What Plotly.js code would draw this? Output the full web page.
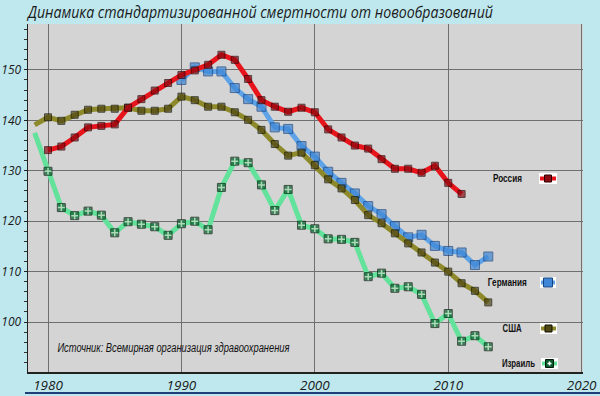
<!DOCTYPE html>
<html>
<head>
<meta charset="utf-8">
<script src="https://cdn.plot.ly/plotly-3.0.1.min.js"></script>
<style>html,body{margin:0;padding:0;background:#bfe8ee;}#chart{width:600px;height:396px;}</style>
</head>
<body>
<div id="chart"></div>
<script>
var years = [1979,1980,1981,1982,1983,1984,1985,1986,1987,1988,1989,1990,1991,1992,1993,1994,1995,1996,1997,1998,1999,2000,2001,2002,2003,2004,2005,2006,2007,2008,2009,2010,2011,2012,2013];
var russia = [null,134.1,134.8,136.6,138.6,138.9,139.2,142.5,144.2,145.9,147.4,149.0,149.9,151.0,153.0,152.0,148.2,144.0,142.7,141.7,142.5,141.6,138.2,136.6,135.0,134.4,132.3,130.4,130.4,129.6,131.0,127.6,125.4,null,null];
var germany = [null,null,null,null,null,null,null,null,null,null,null,148.0,150.5,149.7,149.7,146.4,144.2,142.7,138.6,138.3,134.9,132.8,129.8,127.6,125.5,123.0,121.4,119.0,116.8,117.3,115.1,114.1,113.8,111.3,113.0];
var usa = [139.1,140.6,139.9,141.1,142.1,142.3,142.3,142.5,141.9,141.9,142.3,144.7,144.0,142.7,142.7,141.6,140.1,138.1,135.3,133.0,133.6,131.1,128.3,126.5,124.2,121.2,119.6,117.6,115.6,113.8,111.8,110.0,107.7,106.2,103.9];
var israel = [137.5,129.9,122.7,121.1,122.0,121.2,117.7,119.9,119.4,118.9,117.2,119.5,120.0,118.3,126.7,131.9,131.6,127.2,122.1,126.3,119.2,118.5,116.5,116.4,115.8,109.0,109.7,106.7,107.0,105.5,99.7,101.7,96.2,97.3,95.1];
var seriesNames = ['Россия','Германия','США','Израиль'];
var xTicks = [1980,1990,2000,2010,2020];
var yTicks = [100,110,120,130,140,150];
var titleText = 'Динамика стандартизированной смертности от новообразований';
var sourceText = 'Источник: Всемирная организация здравоохранения';

var styles = {
  'Россия':  {line:'#e8141c', fill:'#8a0a12', edge:'#2a0000', size:7},
  'Германия':{line:'#5ea3e8', fill:'#3f87d6', edge:'#17427e', size:9},
  'США':     {line:'#8e8a2c', fill:'#4f4714', edge:'#111100', size:7},
  'Израиль': {line:'#62e29a', fill:'#0c5a2c', edge:'#001a08', size:8}
};
var dataBy = {'Россия':russia,'Германия':germany,'США':usa,'Израиль':israel};
var order = ['Израиль','Германия','США','Россия'];
function sizes(n, s){ return years.map(function(yr){ return yr === 1979 ? 0 : s; }); }
var traces = [];
order.forEach(function(n){
  var s = styles[n];
  traces.push({x:years, y:dataBy[n], name:n, type:'scatter', mode:'lines+markers', connectgaps:false,
    line:{color:s.line, width:5},
    marker:{symbol:'square', size:sizes(n, s.size), color:s.fill, line:{color:s.edge, width:1}},
    showlegend:false, hoverinfo:'skip'});
});
traces.push({x:years, y:israel, type:'scatter', mode:'markers', showlegend:false, hoverinfo:'skip',
  marker:{symbol:'cross-thin', size:sizes('x', 5), color:'#ffffff', line:{color:'#e8ffe8', width:1.5}}});

var L = 28, R = 583, T = 24, B = 372;
function px(p){ return (p - L)/(R - L); }
function py(p){ return (B - p)/(B - T); }

var legendPos = {
  'Россия':  {tx:507.5, tw:29, ty:178, bx0:539, bx1:557, by0:173, by1:184},
  'Германия':{tx:507.5, tw:39, ty:282, bx0:540, bx1:556, by0:277, by1:288},
  'США':     {tx:511.5, tw:19, ty:328, bx0:540, bx1:557, by0:323, by1:334},
  'Израиль': {tx:518.5, tw:33, ty:363, bx0:541, bx1:558, by0:358, by1:369}
};

var shapes = [];
var annotations = [];
var fitWidths = [];
var narrowFont = '"Liberation Sans",Arial,sans-serif';
seriesNames.forEach(function(n){
  var p = legendPos[n], s = styles[n];
  var cy = (p.by0 + p.by1)/2, cx = (p.bx0 + p.bx1)/2;
  shapes.push({type:'rect', xref:'paper', yref:'paper', x0:px(p.bx0), x1:px(p.bx1), y0:py(p.by1), y1:py(p.by0), fillcolor:'#ffffff', line:{width:0}, layer:'above'});
  shapes.push({type:'line', xref:'paper', yref:'paper', x0:px(p.bx0+1), x1:px(p.bx1-1), y0:py(cy), y1:py(cy), line:{color:s.line, width:4}, layer:'above'});
  var h = s.size/2;
  shapes.push({type:'rect', xref:'paper', yref:'paper', x0:px(cx-h), x1:px(cx+h), y0:py(cy+h), y1:py(cy-h), fillcolor:s.fill, line:{color:s.edge, width:1}, layer:'above'});
  if (n === 'Израиль') {
    shapes.push({type:'line', xref:'paper', yref:'paper', x0:px(cx-2), x1:px(cx+2), y0:py(cy), y1:py(cy), line:{color:'#ffffff', width:1.5}, layer:'above'});
    shapes.push({type:'line', xref:'paper', yref:'paper', x0:px(cx), x1:px(cx), y0:py(cy-2), y1:py(cy+2), line:{color:'#ffffff', width:1.5}, layer:'above'});
  }
  annotations.push({xref:'paper', yref:'paper', x:px(p.tx), y:py(p.ty), xanchor:'center', yanchor:'middle', showarrow:false,
    text:n, font:{family:narrowFont, size:11.5, color:'#111111', weight:'bold'}});
  fitWidths.push(p.tw);
});
annotations.push({xref:'paper', yref:'paper', x:px(173), y:py(348), xanchor:'center', yanchor:'middle', showarrow:false,
  text:sourceText, font:{family:narrowFont, size:12, color:'#111111', style:'italic'}});
fitWidths.push(232);
shapes.push({type:'line', xref:'paper', yref:'paper', x0:px(25), x1:px(600), y0:py(393), y1:py(393), line:{color:'#1d3f7a', width:2}, layer:'above'});

var tickFont = {family:'"Open Sans","Noto Sans",sans-serif', size:12, color:'#1a1a1a', style:'italic'};
var layout = {
  width:600, height:396,
  paper_bgcolor:'#bfe8ee', plot_bgcolor:'#d4d4d4',
  margin:{l:L, r:600-R, t:T, b:396-B, pad:0},
  title:{text:titleText, x:0, xref:'paper', xanchor:'left', y:1-12.5/396, yref:'container', yanchor:'middle',
    font:{family:'"Open Sans","Noto Sans",sans-serif', size:16, color:'#1a1a1a', style:'italic'}},
  xaxis:{range:[1978.5, 2020.1], tickvals:xTicks, ticktext:xTicks.map(String), showgrid:true, gridcolor:'#6f6f6f', gridwidth:1,
    showline:true, linecolor:'#222222', linewidth:1.5, ticks:'', tickfont:{family:tickFont.family, size:13.5, color:'#1a1a1a', style:'italic'}, zeroline:false, fixedrange:true},
  yaxis:{range:[90.1, 159.1], tickvals:yTicks, ticktext:yTicks.map(String), showgrid:true, gridcolor:'#6f6f6f', gridwidth:1,
    showline:true, linecolor:'#222222', linewidth:1.5, ticks:'outside', ticklen:3, tickcolor:'#222222', tickfont:tickFont, zeroline:false,
    ticklabelstandoff:0,
    minor:{dtick:2, ticks:'outside', ticklen:3, tickcolor:'#333333', showgrid:false}, fixedrange:true},
  shapes:shapes, annotations:annotations, showlegend:false
};
Plotly.newPlot('chart', traces, layout, {staticPlot:true, displayModeBar:false}).then(function(gd){
  function fit(el, w){
    if (!el) return;
    el.setAttribute('textLength', w);
    el.setAttribute('lengthAdjust', 'spacingAndGlyphs');
  }
  var texts = gd.querySelectorAll('.annotation-text');
  for (var i = 0; i < texts.length && i < fitWidths.length; i++) fit(texts[i], fitWidths[i]);
  var t = gd.querySelector('.gtitle');
  fit(t, 465);
});
</script>
</body>
</html>
